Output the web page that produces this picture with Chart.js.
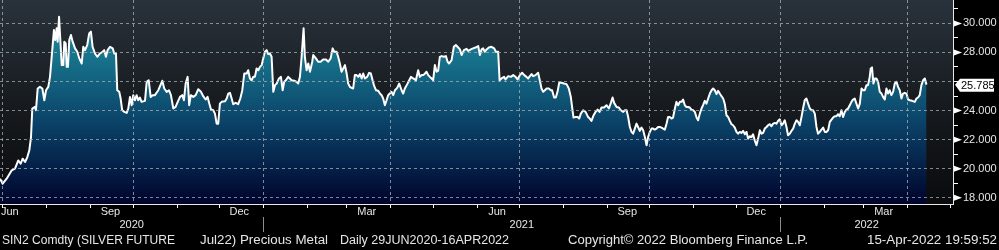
<!DOCTYPE html>
<html>
<head>
<meta charset="utf-8"/>
<title>SIN2 Comdty - Silver Future Jul22</title>
<script src="https://cdn.jsdelivr.net/npm/chart.js"></script>
<style>
html, body { margin: 0; padding: 0; background: #000; }
#chart { display: block; }
</style>
</head>
<body>
<canvas id="chart" width="999" height="250"></canvas>
<script>
// ---- data ----
const startDate = '2020-06-29';
const axisEndDate = '2022-05-03';

// days after startDate
const dayOffsets = [
  0.0, 1.9, 4.7, 8.3, 10.6, 12.9, 14.6, 16.0, 17.7, 19.3, 20.7, 21.9, 22.8, 24.7, 25.4, 26.6, 28.2, 29.9,
  31.3, 32.5, 34.1, 35.3, 36.5, 38.1, 39.0, 40.0, 40.7, 41.7, 42.6, 43.6, 44.7, 45.4, 46.4, 47.1, 48.0, 48.9,
  50.1, 51.3, 53.0, 54.6, 56.0, 57.7, 58.8, 60.0, 61.6, 63.0, 64.2, 65.4, 67.1, 68.7, 70.6, 72.5, 73.6, 74.8,
  76.0, 77.7, 79.6, 80.7, 81.9, 82.8, 84.2, 85.2, 86.3, 87.8, 89.5, 90.6, 91.8, 93.0, 94.1, 95.3, 96.5, 97.6,
  98.8, 100.0, 102.4, 103.6, 105.0, 106.4, 107.8, 109.4, 111.8, 114.6, 116.0, 117.7, 119.3, 120.7, 122.4, 124.0,
  125.5, 127.1, 128.7, 129.9, 131.1, 132.5, 133.6, 134.8, 136.5, 138.2, 140.0, 141.9, 143.5, 145.2, 146.6, 147.8,
  149.0, 150.6, 151.8, 153.0, 154.1, 155.3, 156.5, 158.9, 160.1, 161.2, 162.4, 163.6, 164.7, 166.4, 168.2, 169.7,
  171.1, 172.5, 174.2, 175.3, 176.5, 177.7, 178.8, 180.0, 181.2, 182.4, 183.6, 184.8, 185.9, 187.1, 188.3, 189.4,
  190.6, 191.8, 193.0, 194.2, 195.4, 197.0, 198.4, 199.6, 200.7, 201.9, 203.5, 204.7, 205.9, 207.8, 209.5, 210.6,
  211.8, 213.0, 214.4, 215.3, 216.5, 217.7, 218.9, 220.5, 221.2, 223.1, 224.7, 226.4, 228.2, 230.2, 231.8, 233.5,
  234.9, 236.0, 237.7, 238.8, 240.0, 241.2, 242.4, 243.6, 244.8, 245.9, 247.1, 248.3, 249.4, 250.6, 251.8, 253.0,
  254.2, 255.4, 256.5, 257.7, 259.3, 260.7, 261.9, 263.1, 264.3, 265.5, 267.1, 268.3, 269.5, 270.6, 271.8, 273.0,
  274.1, 275.3, 276.5, 277.7, 278.9, 280.5, 281.9, 283.6, 284.7, 285.9, 287.6, 289.0, 290.2, 291.8, 293.7, 295.3,
  296.5, 297.7, 298.9, 300.1, 301.2, 302.4, 303.6, 304.8, 305.9, 307.1, 308.3, 309.4, 310.6, 311.8, 313.5, 314.9,
  316.1, 317.2, 318.9, 320.5, 321.9, 323.1, 324.8, 326.0, 327.6, 329.5, 330.6, 332.5, 334.1, 335.8, 337.7, 338.9,
  340.1, 341.2, 342.4, 343.6, 345.2, 347.1, 349.0, 350.2, 351.8, 352.8, 354.2, 356.0, 357.0, 358.9, 360.8, 362.4,
  364.1, 365.5, 367.1, 368.7, 370.2, 371.8, 373.0, 374.2, 375.4, 376.5, 378.2, 380.0, 381.2, 382.4, 383.6, 384.8,
  386.0, 387.6, 389.0, 389.9, 391.3, 392.5, 393.7, 394.9, 396.6, 398.2, 400.1, 401.7, 403.1, 404.0, 405.0, 406.4,
  407.9, 409.0, 410.2, 411.8, 413.5, 415.3, 416.5, 417.7, 419.2, 420.6, 422.0, 423.4, 424.8, 426.6, 428.3, 430.0,
  431.4, 432.6, 433.7, 435.4, 437.0, 438.4, 440.1, 441.3, 442.5, 443.6, 444.8, 446.0, 447.1, 448.3, 449.5, 450.6,
  451.8, 453.0, 454.2, 455.4, 456.6, 457.7, 458.9, 460.1, 461.2, 462.4, 463.6, 464.8, 466.0, 467.2, 468.3, 469.5,
  470.7, 471.8, 473.0, 474.2, 475.3, 476.6, 477.7, 478.9, 480.1, 481.3, 482.4, 483.6, 484.8, 485.9, 487.1, 488.3,
  489.5, 490.7, 491.9, 493.0, 494.2, 495.4, 496.5, 497.7, 498.9, 500.1, 501.3, 502.5, 503.6, 504.8, 506.0, 507.1,
  508.3, 509.5, 510.7, 511.9, 513.0, 514.2, 515.4, 516.6, 517.7, 518.9, 520.1, 521.2, 522.4, 523.6, 524.8, 526.0,
  527.2, 528.3, 529.5, 530.7, 531.8, 533.0, 534.2, 535.4, 536.6, 537.8, 538.9, 540.1, 541.3, 542.4, 543.6, 544.8,
  546.0, 547.2, 548.3, 549.5, 550.7, 551.9, 553.0, 554.2, 555.4, 556.5, 557.7, 558.9, 560.1, 561.3, 562.5, 563.6,
  564.8, 566.0, 567.1, 568.3, 569.5, 570.7, 571.9, 573.1, 574.2, 575.4, 576.6, 577.7, 578.9, 580.1, 581.3, 582.5,
  583.6, 584.8, 586.0, 587.2, 588.3, 589.5, 590.7, 591.8, 593.0, 594.2, 595.4, 596.6, 597.8, 598.9, 600.1, 601.3,
  602.4, 603.6, 604.8, 606.0, 607.2, 608.4, 609.5, 610.7, 611.9, 613.0, 614.2, 614.9, 615.8, 616.8, 617.8, 618.9,
  620.1, 621.3, 622.5, 623.6, 624.8, 626.0, 627.1, 628.3, 629.5, 630.7, 631.9, 633.1, 634.2, 635.4, 636.6, 637.7,
  638.9, 640.1, 641.3, 642.5, 644.1, 646.0, 647.2, 648.3, 649.5, 650.7, 651.9, 653.1, 654.3
];

const prices = [
  19.31, 18.97, 19.31, 19.89, 20.00, 20.57, 20.34, 20.69, 20.46, 20.80, 21.26, 22.18, 24.14, 24.25, 24.02, 25.52, 25.63, 25.52,
  24.71, 25.40, 25.63, 26.32, 27.70, 29.54, 28.85, 29.66, 28.74, 30.46, 28.85, 27.13, 27.13, 28.74, 28.62, 27.01, 27.01, 28.85,
  29.20, 28.74, 28.28, 28.05, 27.59, 27.24, 28.39, 28.16, 28.51, 29.31, 29.43, 28.39, 27.93, 27.70, 27.93, 28.05, 28.16, 27.70,
  28.16, 28.39, 28.28, 27.93, 27.93, 25.40, 25.29, 24.83, 24.02, 23.91, 23.84, 24.14, 24.94, 24.37, 25.06, 24.71, 25.06, 24.71,
  24.90, 24.60, 24.67, 25.98, 26.09, 24.94, 25.06, 25.06, 25.40, 26.05, 25.52, 25.29, 25.40, 25.06, 24.14, 24.25,
  24.60, 24.94, 25.06, 24.71, 25.86, 26.32, 24.37, 25.06, 24.94, 25.06, 25.47, 25.29, 24.99, 24.76, 24.94, 24.48,
  24.07, 24.02, 23.79, 23.10, 23.10, 24.48, 24.60, 24.64, 24.83, 25.17, 25.22, 24.83, 24.44, 24.53, 24.44, 24.83,
  25.40, 26.55, 26.55, 26.78, 26.21, 26.09, 26.32, 26.32, 26.90, 26.78, 27.01, 27.13, 27.59, 28.05, 28.16, 27.89,
  27.93, 27.70, 25.29, 25.75, 25.86, 26.21, 26.32, 25.40, 25.98, 26.09, 26.32, 26.21, 26.09, 26.05, 25.98, 25.86,
  26.32, 27.70, 29.66, 27.70, 26.78, 27.24, 26.67, 27.36, 27.82, 27.59, 27.36, 27.36, 27.52, 27.52, 27.36, 27.59,
  28.28, 28.05, 28.05, 27.70, 27.24, 26.67, 26.90, 27.13, 26.55, 25.86, 25.63, 25.56, 25.52, 26.44, 26.44, 26.32,
  26.51, 26.21, 26.55, 26.21, 26.32, 26.60, 26.55, 26.09, 25.68, 25.40, 25.36, 25.17, 25.06, 24.83, 24.37, 24.71,
  25.06, 25.17, 25.29, 25.06, 25.40, 25.56, 25.86, 25.40, 25.17, 25.52, 25.82, 26.09, 26.32, 26.21, 26.09, 26.78,
  26.32, 26.44, 26.44, 26.55, 26.67, 26.44, 26.32, 26.21, 26.09, 27.13, 26.67, 26.74, 27.70, 27.75, 27.70, 27.75,
  27.36, 27.24, 27.47, 28.39, 28.51, 28.39, 28.21, 27.82, 28.16, 28.25, 28.11, 28.21, 28.28, 28.34, 28.44, 27.82,
  28.21, 28.28, 28.05, 28.21, 28.34, 28.39, 28.28, 28.05, 28.05, 26.09, 26.21, 26.32, 26.14, 26.37, 26.32, 26.44,
  26.32, 26.14, 26.44, 26.60, 26.44, 26.32, 26.21, 26.37, 26.51, 26.37, 26.44, 26.60, 26.09, 25.52, 25.29, 25.40,
  25.52, 25.52, 25.40, 25.40, 24.90, 24.90, 25.29, 25.91, 25.91, 25.86, 25.82, 25.52, 24.94, 24.25, 23.52, 23.56,
  23.56, 23.45, 23.79, 24.02, 23.91, 23.56, 23.45, 23.29, 23.68, 23.91, 24.07, 23.91, 24.21, 24.21, 24.37, 24.14,
  24.53, 24.90, 24.53, 24.25, 24.21, 24.02, 23.91, 24.02, 24.02, 23.56, 22.87, 22.53, 22.41, 22.76, 23.10, 22.87,
  22.60, 22.83, 22.64, 22.18, 21.61, 22.18, 22.53, 22.76, 22.76, 22.69, 22.76, 22.87, 22.87, 22.83, 22.76, 22.69,
  23.10, 23.56, 23.56, 23.45, 23.52, 24.14, 24.60, 24.37, 24.60, 24.60, 24.76, 24.37, 24.25, 24.25, 24.21, 24.07,
  24.02, 23.91, 23.52, 23.33, 23.79, 24.14, 24.37, 24.67, 24.48, 24.83, 25.17, 25.40, 25.52, 25.40, 25.13, 25.36,
  25.17, 24.99, 24.83, 24.44, 23.68, 23.56, 23.29, 23.06, 22.99, 22.83, 22.53, 22.41, 22.53, 22.46, 22.60, 22.37,
  22.53, 22.07, 22.23, 22.18, 22.37, 21.95, 21.61, 22.07, 22.64, 22.41, 22.46, 22.76, 22.87, 22.99, 23.06, 22.92,
  23.10, 23.15, 23.10, 23.30, 23.40, 22.99, 23.10, 23.33, 22.87, 22.30, 22.41, 22.60, 22.76, 23.10, 23.33, 23.22,
  22.99, 23.56, 24.14, 24.71, 24.83, 24.48, 24.14, 24.02, 24.02, 23.79, 22.87, 22.41, 22.53, 22.69, 22.83, 22.53,
  22.53, 22.64, 23.22, 23.38, 23.52, 23.61, 23.61, 23.75, 23.61, 24.02, 23.56, 23.91, 24.07, 24.14, 24.37, 24.60,
  24.76, 24.83, 24.48, 24.14, 24.48, 25.52, 25.40, 25.40, 25.75, 25.75, 26.32, 26.90, 26.97, 25.86, 26.21, 26.21,
  25.98, 25.29, 25.17, 24.94, 24.76, 25.52, 25.17, 25.40, 25.06, 25.29, 25.86, 25.98, 25.63, 25.40, 24.83, 25.17,
  25.22, 25.17, 24.76, 24.71, 24.67, 24.60, 24.83, 24.90, 25.06, 25.75, 26.09, 26.21, 25.785
];

// axis labels
const quarterMonths = ['2020-06', '2020-09', '2020-12', '2021-03', '2021-06', '2021-09', '2021-12', '2022-03'];
const quarterLabels = ['Jun', 'Sep', 'Dec', 'Mar', 'Jun', 'Sep', 'Dec', 'Mar'];
const yearLabels = ['2020', '2021', '2022'];
const yTickValues = [18, 19, 20, 21, 22, 23, 24, 25, 26, 27, 28, 29, 30, 31];
const yMin = 17.57;
const yMax = 31.61;

const footerParts = [
  ['SIN2 Comdty (SILVER FUTURE', 2, 173],
  ['Jul22) Precious Metal', 200, 128],
  ['Daily 29JUN2020-16APR2022', 340, 169],
  ['Copyright\u00a9 2022 Bloomberg Finance L.P.', 568, 240],
  ['15-Apr-2022 19:59:52', 867, 130]
];

// ---- helpers ----
const DAY = 86400000;
function dayOf( s ){
  return ( Date.parse( s ) - Date.parse( startDate ) ) / DAY;
}
const xMax = dayOf( axisEndDate );
const lastPrice = prices[prices.length - 1];

// month-start ticks for the x axis
const monthTicks = [];
for( let y = 2020; y <= 2022; y++ ){
  for( let m = 1; m <= 12; m++ ){
    const s = y + '-' + String( m ).padStart( 2, '0' ) + '-01';
    const d = dayOf( s );
    if( d > 0 && d <= xMax ){
      monthTicks.push({ value: d, quarter: ( m - 1 ) % 3 === 0 });
    }
  }
}

const gridColor = 'rgba(170,176,184,0.75)';
const textColor = '#e6e6e6';
Chart.defaults.font.family = "'Liberation Sans', Arial, sans-serif";

function fitText( ctx, txt, x, y, w ){
  const m = ctx.measureText( txt ).width;
  ctx.save();
  ctx.translate( x, y );
  ctx.scale( w / m, 1 );
  ctx.fillText( txt, 0, 0 );
  ctx.restore();
}

// fixed axis sizes so the plot area matches the screen
function fixSize( s, w, h ){
  if( w !== null ) s.width = w;
  if( h !== null ) s.height = h;
  s.paddingTop = 0;
  s.paddingBottom = 0;
  s.paddingLeft = 0;
  s.paddingRight = 0;
}

const bgPlugin = {
  id: 'bg',
  beforeDraw( chart ){
    const { ctx, chartArea: a } = chart;
    const g = ctx.createLinearGradient( 0, a.top, 0, a.bottom );
    g.addColorStop( 0, '#29323b' );
    g.addColorStop( 0.5, '#171b1f' );
    g.addColorStop( 1, '#0a0b0d' );
    ctx.save();
    ctx.fillStyle = g;
    ctx.fillRect( a.left, a.top, a.right - a.left, a.bottom - a.top );
    ctx.restore();
  }
};

const decoPlugin = {
  id: 'deco',
  afterDraw( chart ){
    const { ctx, chartArea: a } = chart;
    const xs = chart.scales.x;
    const ys = chart.scales.y;
    ctx.save();

    // arrow markers on the labelled y ticks
    ctx.fillStyle = '#ffffff';
    yTickValues.forEach( v => {
      if( v % 2 !== 0 || Math.abs( v - lastPrice ) < 0.6 ) return;
      const py = ys.getPixelForValue( v );
      ctx.beginPath();
      ctx.moveTo( a.right + 1, py - 3 );
      ctx.lineTo( a.right + 9, py );
      ctx.lineTo( a.right + 1, py + 3 );
      ctx.closePath();
      ctx.fill();
    });

    // last price tag
    const ly = ys.getPixelForValue( lastPrice );
    ctx.beginPath();
    ctx.moveTo( a.right + 2, ly );
    ctx.lineTo( a.right + 7, ly - 6 );
    ctx.lineTo( a.right + 41, ly - 6 );
    ctx.lineTo( a.right + 41, ly + 7 );
    ctx.lineTo( a.right + 7, ly + 7 );
    ctx.closePath();
    ctx.fill();
    ctx.fillStyle = '#000000';
    ctx.font = "11px 'Liberation Sans', Arial, sans-serif";
    ctx.textBaseline = 'middle';
    ctx.textAlign = 'left';
    ctx.fillText( lastPrice.toFixed( 3 ), a.right + 8, ly + 1 );

    // quarter month labels
    ctx.fillStyle = textColor;
    ctx.font = "11px 'Liberation Sans', Arial, sans-serif";
    quarterMonths.forEach( ( ym, i ) => {
      const px = xs.getPixelForValue( dayOf( ym + '-15' ) );
      const w = ctx.measureText( quarterLabels[i] ).width;
      if( px - w / 2 < a.left ){
        ctx.textAlign = 'left';
        ctx.fillText( quarterLabels[i], a.left + 1, 212 );
      }else{
        ctx.textAlign = 'center';
        ctx.fillText( quarterLabels[i], px, 212 );
      }
    });

    // year labels centred on their visible span, separators at year starts
    ctx.textAlign = 'center';
    yearLabels.forEach( yr => {
      const s = Math.max( 0, dayOf( yr + '-01-01' ) );
      const e = Math.min( xMax, dayOf( ( +yr + 1 ) + '-01-01' ) );
      const px = ( xs.getPixelForValue( s ) + xs.getPixelForValue( e ) ) / 2;
      ctx.fillText( yr, px, 225 );
      const d0 = dayOf( yr + '-01-01' );
      if( d0 > 0 ){
        const sx = Math.round( xs.getPixelForValue( d0 ) ) + 0.5;
        ctx.strokeStyle = '#8c8c8c';
        ctx.lineWidth = 1;
        ctx.beginPath();
        ctx.moveTo( sx, 217 );
        ctx.lineTo( sx, 232 );
        ctx.stroke();
      }
    });

    // footer line
    ctx.textAlign = 'left';
    ctx.font = "12px 'Liberation Sans', Arial, sans-serif";
    footerParts.forEach( p => fitText( ctx, p[0], p[1], 241, p[2] ) );

    ctx.restore();
  }
};

const chart = new Chart( document.getElementById( 'chart' ), {
  type: 'line',
  data: {
    datasets: [{
      label: 'SIN2 Comdty',
      data: dayOffsets.map( ( d, i ) => ({ x: d, y: prices[i] }) ),
      borderColor: '#ffffff',
      borderWidth: 2,
      borderJoinStyle: 'round',
      pointRadius: 0,
      tension: 0,
      fill: 'start',
      backgroundColor: function( c ){
        const a = c.chart.chartArea;
        if( !a ) return 'rgba(20,100,130,0.8)';
        const g = c.chart.ctx.createLinearGradient( 0, a.top, 0, a.bottom );
        g.addColorStop( 0, '#2895aa' );
        g.addColorStop( 0.3, '#167089' );
        g.addColorStop( 0.6, '#0b4268' );
        g.addColorStop( 1, '#00042c' );
        return g;
      }
    }]
  },
  options: {
    responsive: false,
    animation: false,
    events: [],
    layout: { padding: 0, autoPadding: false },
    plugins: {
      legend: { display: false },
      tooltip: { enabled: false }
    },
    scales: {
      x: {
        type: 'linear',
        min: 0,
        max: xMax,
        afterBuildTicks: s => { s.ticks = monthTicks.map( t => ({ value: t.value, quarter: t.quarter }) ); },
        afterFit: s => fixSize( s, null, 46 ),
        ticks: { display: false },
        grid: {
          z: 1,
          color: c => ( c.tick && c.tick.quarter ) ? gridColor : 'transparent',
          tickColor: '#ffffff',
          tickLength: 4
        },
        border: { color: '#e8e8e8', width: 1, dash: [3, 3], z: 2 }
      },
      y: {
        position: 'right',
        min: yMin,
        max: yMax,
        afterBuildTicks: s => { s.ticks = yTickValues.map( v => ({ value: v }) ); },
        afterFit: s => fixSize( s, 46, null ),
        ticks: {
          color: textColor,
          padding: 5,
          autoSkip: false,
          font: { size: 11 },
          callback: v => ( v % 2 === 0 && Math.abs( v - lastPrice ) >= 0.6 ) ? v.toFixed( 3 ) : ''
        },
        grid: {
          z: 1,
          color: c => ( c.tick && c.tick.value % 2 === 0 ) ? gridColor : 'transparent',
          tickColor: '#ffffff',
          tickLength: 5
        },
        border: { color: '#e8e8e8', width: 1, dash: [3, 3], z: 2 }
      }
    }
  },
  plugins: [bgPlugin, decoPlugin]
});
</script>
</body>
</html>
